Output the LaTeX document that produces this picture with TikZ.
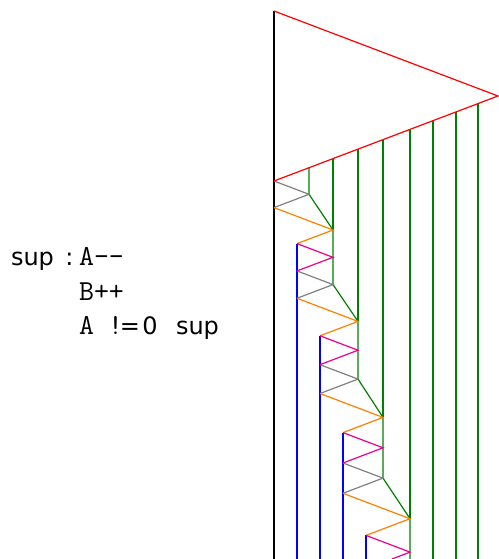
\documentclass[tikz,border=0pt]{standalone}
\usepackage{fontspec}
\setmainfont{DejaVu Sans}
\begin{document}
\begin{tikzpicture}[x=1pt, y=-1pt, line width=1.2pt,
    every node/.style={inner sep=0pt, anchor=base west, font=\fontsize{24}{30}\selectfont},
    code/.style={font=\fontsize{29}{30}\selectfont\ttfamily}]
  \useasboundingbox (0,0) rectangle (498,559);

  \node (lbl) at (10.4,265) {sup};
  \node (colon) at (64.8,265) {:};
  \node[code] (dec) at (78.5,265) {A--};
  \node[code] (inc) at (78.5,300) {B++};
  \node[code] (test) at (78.5,334) {A};
  \node[code] (bang) at (107.4,334) {!};
  \node (neq) at (119.3,334) {=};
  \node (zero) at (141.7,334) {0};
  \node (jump) at (175.4,334) {sup};

  \def\s{0.37946}
  \coordinate (top) at (274,11);
  \coordinate (tip) at (498,96);
  \coordinate (base) at (274,181);
  \foreach \x [count=\i] in {309,333,358,383,410,433,456,478}
    \coordinate (g\i) at (\x,{181-\s*(\x-274)});

  \coordinate (P1) at (309,194.3);  \coordinate (P2) at (274,207.6);
  \coordinate (P3) at (333,230.0);  \coordinate (P4) at (297,243.6);
  \coordinate (P5) at (333,257.3);  \coordinate (P6) at (297,270.9);
  \coordinate (P7) at (333,284.6);  \coordinate (P8) at (297,298.3);
  \coordinate (P9) at (358,321.4);  \coordinate (P10) at (320,335.8);
  \coordinate (P11) at (358,350.2); \coordinate (P12) at (320,364.7);
  \coordinate (P13) at (358,379.1); \coordinate (P14) at (320,393.5);
  \coordinate (P15) at (383,417.4); \coordinate (P16) at (343,432.6);
  \coordinate (P17) at (383,447.8); \coordinate (P18) at (343,463.0);
  \coordinate (P19) at (383,478.1); \coordinate (P20) at (343,493.3);
  \coordinate (P21) at (410,518.7); \coordinate (P22) at (366,535.4);
  \coordinate (P23) at (410,552.1); \coordinate (P24) at (391.9,559);

  \draw (top) -- (274,559);

  \draw[green!50!black] (g1) -- (P1) -- (P3) -- (P7) -- (P9) -- (P13) -- (P15)
    -- (P19) -- (P21) -- (410,559);
  \draw[green!50!black] (g2) -- (P3) (g3) -- (P9) (g4) -- (P15) (g5) -- (P21);
  \foreach \i/\x in {6/433,7/456,8/478}
    \draw[green!50!black] (g\i) -- (\x,559);

  \draw[blue] (P4) -- (297,559) (P10) -- (320,559) (P16) -- (343,559) (P22) -- (366,559);

  \draw[gray] (base) -- (P1) -- (P2) (P6) -- (P7) -- (P8)
    (P12) -- (P13) -- (P14) (P18) -- (P19) -- (P20);
  \draw[orange] (P2) -- (P3) -- (P4) (P8) -- (P9) -- (P10)
    (P14) -- (P15) -- (P16) (P20) -- (P21) -- (P22);
  \draw[magenta] (P4) -- (P5) -- (P6) (P10) -- (P11) -- (P12)
    (P16) -- (P17) -- (P18) (P22) -- (P23) -- (P24);

  \draw[red] (top) -- (tip) -- (base);
\end{tikzpicture}
\end{document}
